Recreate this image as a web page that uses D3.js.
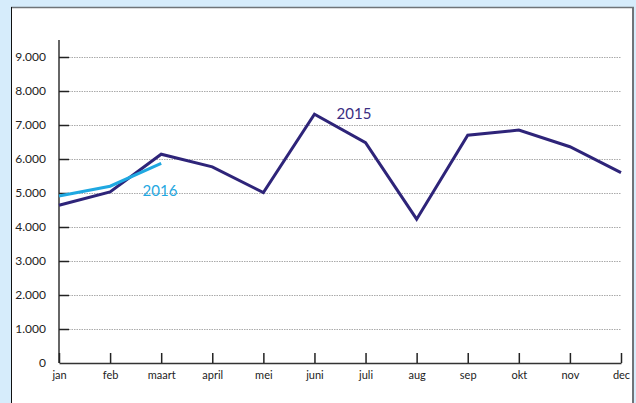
<!DOCTYPE html>
<html lang="nl">
  <head>
    <meta charset="UTF-8" />
    <title>2015 / 2016</title>
    <script src="https://d3js.org/d3.v7.min.js"></script>
    <style>
      html, body { margin: 0; padding: 0; background: #d6ecfb; }
      svg { display: block; }
      .tick text { font-family: Lato, "Open Sans", sans-serif; fill: #222; }
    </style>
  </head>
  <body>
    <script>
      const months = ["jan", "feb", "maart", "april", "mei", "juni", "juli", "aug", "sep", "okt", "nov", "dec"];
      const values2015 = [4640, 5030, 6140, 5770, 5010, 7320, 6480, 4230, 6700, 6850, 6360, 5600];
      const values2016 = [4910, 5200, 5870];
      const yTicks = [0, 1000, 2000, 3000, 4000, 5000, 6000, 7000, 8000, 9000];

      const width = 636;
      const height = 403;

      const svg = d3.select("body").append("svg")
        .attr("width", width)
        .attr("height", height);

      // white panel
      svg.append("rect")
        .attr("x", 11.5).attr("y", 7.5)
        .attr("width", 621.5).attr("height", 410)
        .attr("fill", "#fff");
      svg.append("line").attr("x1", 11).attr("x2", 634).attr("y1", 7.5).attr("y2", 7.5)
        .attr("stroke", "#6f7478").attr("stroke-width", 1.5);
      svg.append("line").attr("x1", 11.5).attr("x2", 11.5).attr("y1", 7).attr("y2", 403)
        .attr("stroke", "#111").attr("stroke-width", 1);
      svg.append("line").attr("x1", 633).attr("x2", 633).attr("y1", 7).attr("y2", 403)
        .attr("stroke", "#6f7478").attr("stroke-width", 2);

      const x = d3.scalePoint().domain(months).range([59, 621]);
      const y = d3.scaleLinear().domain([0, 9000]).range([363, 57]);

      // grid lines
      svg.append("g")
        .selectAll("line")
        .data(yTicks.slice(1))
        .join("line")
        .attr("x1", 69).attr("x2", 621)
        .attr("y1", d => y(d) + 0.5).attr("y2", d => y(d) + 0.5)
        .attr("stroke", "#aaa")
        .attr("stroke-width", 1)
        .attr("stroke-dasharray", "1.5,1");

      // y axis
      const yAxis = svg.append("g")
        .attr("transform", "translate(59,0)")
        .call(d3.axisLeft(y).tickValues(yTicks)
          .tickFormat(d => d === 0 ? "0" : d3.format(",")(d).replace(",", "."))
          .tickSizeInner(-10).tickSizeOuter(0).tickPadding(13));
      yAxis.select(".domain").attr("stroke", "#333").attr("stroke-width", 1.5)
        .attr("d", "M0,40V363");
      yAxis.selectAll(".tick line").attr("stroke", "#222").attr("stroke-width", 1.5)
        .filter(d => d === 0).remove();
      yAxis.selectAll(".tick text").attr("font-size", 12).attr("fill", "#222");

      // x axis
      const xAxis = svg.append("g")
        .attr("transform", "translate(0,363)")
        .call(d3.axisBottom(x).tickSizeInner(-10).tickSizeOuter(0).tickPadding(8));
      xAxis.select(".domain").attr("stroke", "#333").attr("stroke-width", 1.5);
      xAxis.selectAll(".tick line").attr("stroke", "#222").attr("stroke-width", 1.5);
      xAxis.selectAll(".tick text").attr("font-size", 11).attr("fill", "#222");

      const line = d3.line()
        .x((d, i) => x(months[i]))
        .y(d => y(d));

      svg.append("path")
        .datum(values2015)
        .attr("d", line)
        .attr("fill", "none")
        .attr("stroke", "#2e2479")
        .attr("stroke-width", 3)
        .attr("stroke-linejoin", "miter");

      svg.append("path")
        .datum(values2016)
        .attr("d", line)
        .attr("fill", "none")
        .attr("stroke", "#1fa8e1")
        .attr("stroke-width", 3);

      svg.append("text")
        .attr("x", 354).attr("y", 119)
        .attr("text-anchor", "middle")
        .attr("font-family", "Lato, 'Open Sans', sans-serif")
        .attr("font-size", 15)
        .attr("fill", "#3a2e82")
        .text("2015");

      svg.append("text")
        .attr("x", 160).attr("y", 196)
        .attr("text-anchor", "middle")
        .attr("font-family", "Lato, 'Open Sans', sans-serif")
        .attr("font-size", 15)
        .attr("fill", "#1fa8e1")
        .text("2016");
    </script>
  </body>
</html>
